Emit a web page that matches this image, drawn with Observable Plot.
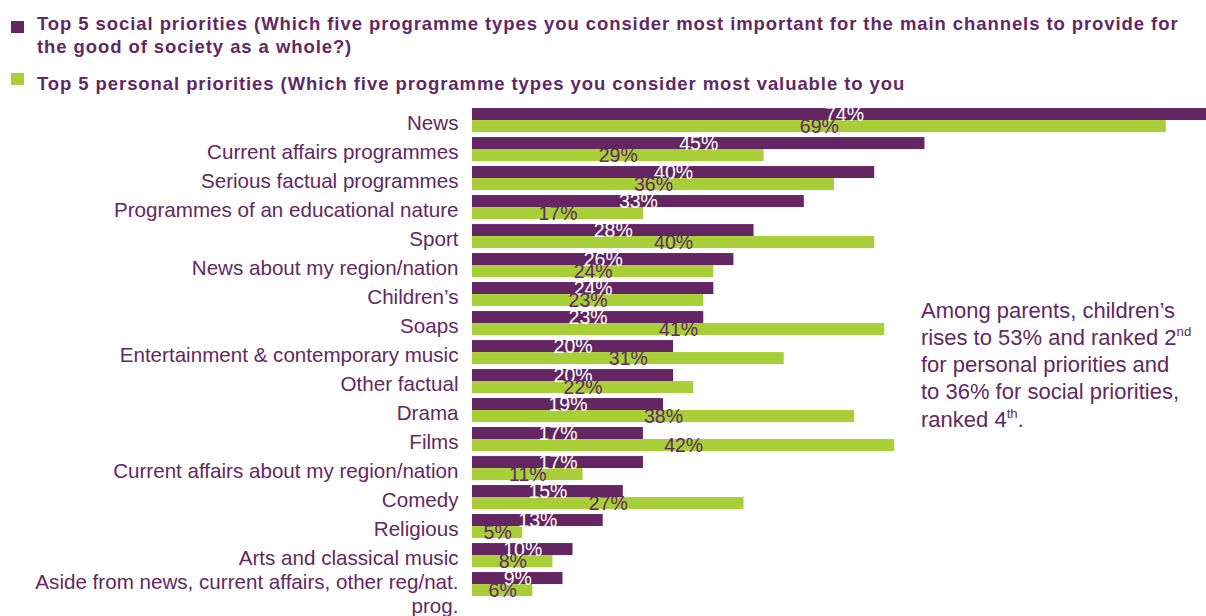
<!DOCTYPE html>
<html>
<head>
<meta charset="utf-8">
<script src="https://cdn.jsdelivr.net/npm/d3@7"></script>
<script src="https://cdn.jsdelivr.net/npm/@observablehq/plot@0.6"></script>
<style>
  body { margin: 0; background: #fff; font-family: "Liberation Sans", Arial, sans-serif; }
  #legend { position: relative; width: 1206px; height: 100px; }
  .sw { position: absolute; left: 11px; width: 13px; height: 12px; }
  .lt { position: absolute; left: 37px; font-weight: bold; font-size: 18.5px; letter-spacing: 0.92px;
        color: #622863; line-height: 22.5px; white-space: nowrap; }
  #note { position: absolute; left: 921px; top: 296.5px; font-size: 22px; line-height: 27.3px;
          color: #622863; white-space: nowrap; }
  #note .sup { font-size: 0.6em; line-height: 0; position: relative; top: -0.65em; }
</style>
</head>
<body>
<div id="legend">
  <div class="sw" style="top:21px;background:#632662"></div>
  <div class="lt" style="top:13px">Top 5 social priorities (Which five programme types you consider most important for the main channels to provide for<br>the good of society as a whole?)</div>
  <div class="sw" style="top:73px;background:#a8ce38"></div>
  <div class="lt" style="top:73px">Top 5 personal priorities (Which five programme types you consider most valuable to you</div>
</div>
<div id="chart"></div>
<div id="note">Among parents, children’s<br>rises to 53% and ranked 2<span class="sup">nd</span><br>for personal priorities and<br>to 36% for social priorities,<br>ranked 4<span class="sup">th</span>.</div>
<script>
const categories = [
  "News",
  "Current affairs programmes",
  "Serious factual programmes",
  "Programmes of an educational nature",
  "Sport",
  "News about my region/nation",
  "Children’s",
  "Soaps",
  "Entertainment & contemporary music",
  "Other factual",
  "Drama",
  "Films",
  "Current affairs about my region/nation",
  "Comedy",
  "Religious",
  "Arts and classical music",
  "Aside from news, current affairs, other reg/nat.\nprog."
];
const socialValues   = [74, 45, 40, 33, 28, 26, 24, 23, 20, 20, 19, 17, 17, 15, 13, 10, 9];
const personalValues = [69, 29, 36, 17, 40, 24, 23, 41, 31, 22, 38, 42, 11, 27, 5, 8, 6];
const seriesNames = ["social", "personal"];

const purple = "#632662";
const green = "#a8ce38";
const textPurple = "#622863";

const rows = [];
categories.forEach((c, i) => {
  rows.push({category: c, series: "social", value: socialValues[i]});
  rows.push({category: c, series: "personal", value: personalValues[i]});
});
const catRows = categories.map(c => ({category: c, multi: c.includes("\n")}));

const chart = Plot.plot({
  width: 1206,
  height: 516,
  marginLeft: 472,
  marginRight: 0,
  marginTop: 4.95,
  marginBottom: 16.35,
  style: {fontFamily: "'Liberation Sans', Arial, sans-serif", background: "white"},
  x: {domain: [0, 73], axis: null},
  y: {domain: seriesNames, axis: null, padding: 0},
  fy: {domain: categories, axis: null, paddingInner: 0.141, paddingOuter: 0.0705},
  color: {domain: seriesNames, range: [purple, green]},
  marks: [
    Plot.barX(rows, {x: "value", y: "series", fy: "category", fill: "series", clip: true}),
    Plot.text(rows.filter(d => d.series === "social"), {
      x: d => d.value / 2, y: "series", fy: "category", text: d => d.value + "%",
      fill: "white", fontSize: 19.5, dy: 0.5
    }),
    Plot.text(rows.filter(d => d.series === "personal"), {
      x: d => d.value / 2, y: "series", fy: "category", text: d => d.value + "%",
      fill: textPurple, fontSize: 19.5, dy: 0.5
    }),
    Plot.text(catRows.filter(d => !d.multi), {
      fy: "category", text: "category", frameAnchor: "left", textAnchor: "end",
      dx: -14, dy: 2, fill: textPurple, fontSize: 20.6
    }),
    Plot.text(catRows.filter(d => d.multi), {
      fy: "category", text: "category", frameAnchor: "left", textAnchor: "end",
      dx: -14, dy: 8, lineHeight: 1.17, fill: textPurple, fontSize: 20.6
    })
  ]
});
document.getElementById("chart").appendChild(chart);
</script>
</body>
</html>
